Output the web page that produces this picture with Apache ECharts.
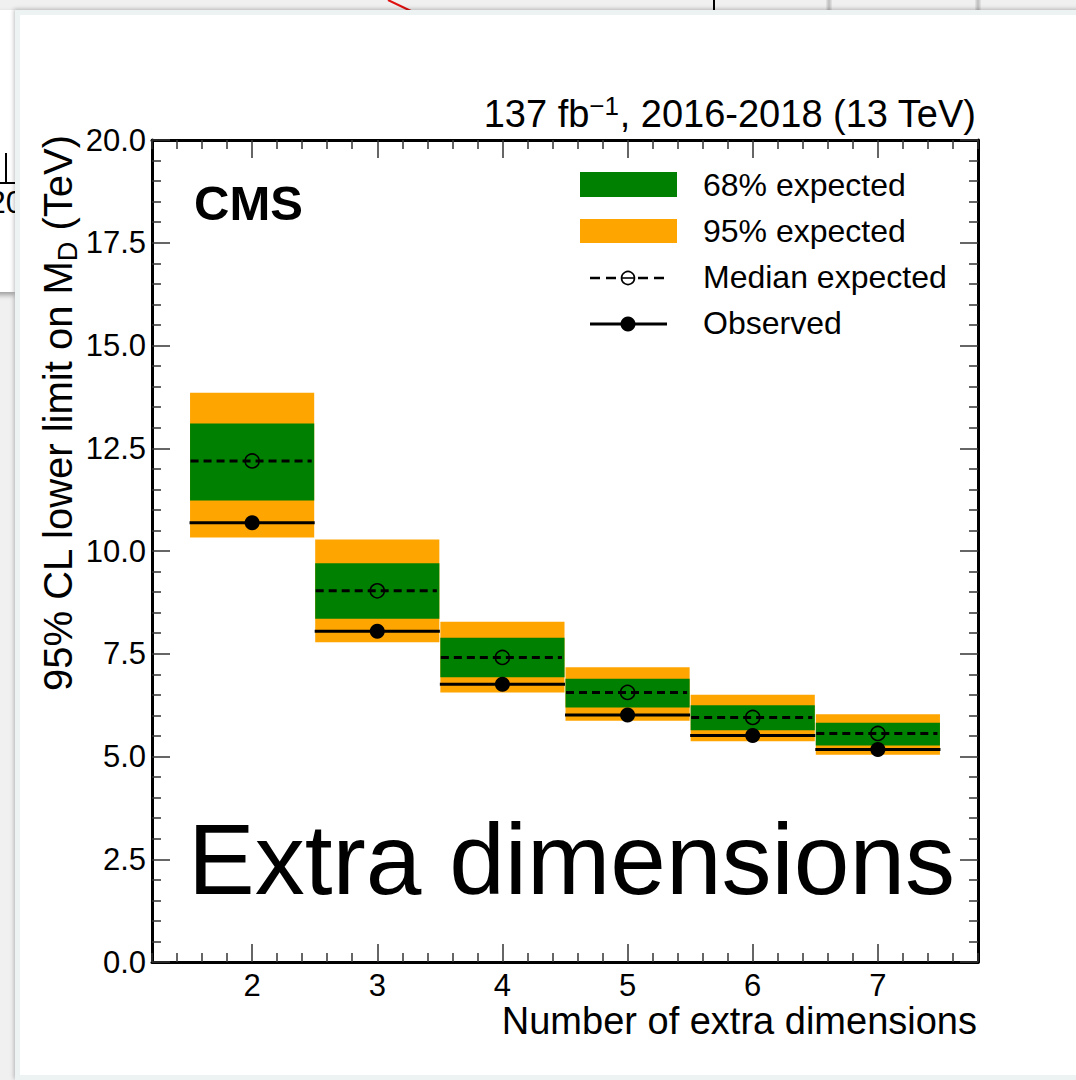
<!DOCTYPE html>
<html>
<head>
<meta charset="utf-8">
<title>Extra dimensions limits</title>
<script src="https://cdn.jsdelivr.net/npm/echarts@6/dist/echarts.min.js"></script>
<style>
  html, body { margin: 0; padding: 0; width: 1076px; height: 1080px; overflow: hidden; background: #f0f0f0; position: relative; }
  .back-panel-left { position: absolute; left: -20px; top: 10px; width: 35px; height: 282px; background: #fff; box-shadow: 0 3px 5px rgba(0,0,0,0.35); overflow: hidden; }
  .back-panel-left .tick-v { position: absolute; left: 25px; top: 143px; width: 2px; height: 30px; background: #000; }
  .back-panel-left .tick-h { position: absolute; left: 18px; top: 172px; width: 20px; height: 2px; background: #000; }
  .back-panel-left .num { position: absolute; left: 8px; top: 174px; font: 32px 'Liberation Sans', Arial, sans-serif; color: #000; }
  .back-bar { position: absolute; top: 0; height: 11px; width: 6px; background: linear-gradient(to right, #e6e6e6, #bdbdbd, #e6e6e6); }
  .back-line { position: absolute; left: 713px; top: 0; width: 2px; height: 11px; background: #000; }
  .back-svg { position: absolute; left: 0; top: 0; }
  .card { position: absolute; left: 15px; top: 10px; width: 1100px; height: 1060px; background: #fff; border: 5px solid #edf2f2; box-shadow: -1px -1px 4px rgba(0,0,0,0.25); }
  #chart { position: absolute; left: 0; top: 0; width: 1076px; height: 1080px; }
</style>
</head>
<body>
<svg class="back-svg" width="1076" height="20"><line x1="388" y1="0" x2="411" y2="11" stroke="#e01010" stroke-width="2"/></svg>
<div class="back-line"></div>
<div class="back-bar" style="left:826px"></div>
<div class="back-bar" style="left:975px"></div>
<div class="back-panel-left"><div class="tick-v"></div><div class="tick-h"></div><div class="num">20</div></div>
<div class="card"></div>
<div id="chart"></div>
<script>
// Number of extra dimensions (one box per value)
const dims = [2, 3, 4, 5, 6, 7];
// 95% CL lower limits on M_D in TeV
const observed = [10.69, 8.05, 6.76, 6.01, 5.51, 5.17];
const expected = [12.19, 9.03, 7.41, 6.56, 5.95, 5.56];
const exp68Lo  = [11.23, 8.35, 6.93, 6.19, 5.64, 5.27];
const exp68Hi  = [13.10, 9.70, 7.89, 6.89, 6.25, 5.82];
const exp95Lo  = [10.33, 7.78, 6.56, 5.87, 5.37, 5.04];
const exp95Hi  = [13.85, 10.28, 8.28, 7.17, 6.50, 6.03];
// Axis ranges and ticks
const xMin = 1.2, xMax = 7.8, xMinorStep = 0.2;
const yMin = 0, yMax = 20, yStep = 2.5;

const FONT = "'Liberation Sans', Arial, Helvetica, sans-serif";
const GREEN = '#008000';
const ORANGE = '#FFA500';

const xMinorTicks = [];
for (let i = 0; xMin + i * xMinorStep <= xMax + 1e-9; i++) {
  const v = Math.round((xMin + i * xMinorStep) * 10) / 10;
  if (!dims.includes(v)) xMinorTicks.push(v);
}

const boxData = dims.map((d, i) => [d, exp95Lo[i], exp95Hi[i], exp68Lo[i], exp68Hi[i], expected[i], observed[i]]);

function renderBox(params, api) {
  const d = api.value(0);
  const xl = api.coord([d - 0.5, 0])[0];
  const xr = api.coord([d + 0.5, 0])[0];
  const xc = api.coord([d, 0])[0];
  const py = v => api.coord([d, v])[1];
  const lo95 = py(api.value(1)), hi95 = py(api.value(2));
  const lo68 = py(api.value(3)), hi68 = py(api.value(4));
  const yExp = py(api.value(5)), yObs = py(api.value(6));
  return {
    type: 'group',
    children: [
      { type: 'rect', shape: { x: xl + 0.5, y: hi95, width: xr - xl - 1, height: lo95 - hi95 }, style: { fill: ORANGE } },
      { type: 'rect', shape: { x: xl + 0.5, y: hi68, width: xr - xl - 1, height: lo68 - hi68 }, style: { fill: GREEN } },
      { type: 'line', shape: { x1: xl + 1, y1: yExp, x2: xr - 3, y2: yExp }, style: { stroke: '#000', lineWidth: 3, lineDash: [8, 5] } },
      { type: 'line', shape: { x1: xl, y1: yObs, x2: xr, y2: yObs }, style: { stroke: '#000', lineWidth: 3 } },
      { type: 'circle', shape: { cx: xc, cy: yExp, r: 7 }, style: { fill: 'none', stroke: '#000', lineWidth: 1.6 } },
      { type: 'circle', shape: { cx: xc, cy: yObs, r: 7.5 }, style: { fill: '#000' } }
    ]
  };
}

const frameLine = { show: true, onZero: false, lineStyle: { color: '#000', width: 3 } };
const tickLine = { color: '#333', width: 1.5 };
const noSplit = { show: false };

function xAxisPair(position, withLabels) {
  return [
    {
      type: 'value', min: xMin, max: xMax, position,
      axisLine: frameLine,
      axisTick: { show: true, inside: true, length: 18, customValues: dims, lineStyle: tickLine },
      axisLabel: withLabels
        ? { show: true, customValues: dims, fontSize: 31, color: '#000', fontFamily: FONT, margin: 8 }
        : { show: false },
      splitLine: noSplit
    },
    {
      type: 'value', min: xMin, max: xMax, position,
      axisLine: { show: false, onZero: false },
      axisTick: { show: true, inside: true, length: 9, customValues: xMinorTicks, lineStyle: tickLine },
      axisLabel: { show: false },
      splitLine: noSplit
    }
  ];
}

function yAxisDef(position, withLabels) {
  return {
    type: 'value', min: yMin, max: yMax, interval: yStep, position,
    axisLine: frameLine,
    axisTick: { show: true, inside: true, length: 18, lineStyle: tickLine },
    minorTick: { show: true, splitNumber: 5, length: 9, lineStyle: tickLine },
    axisLabel: withLabels
      ? { show: true, fontSize: 31, color: '#000', fontFamily: FONT, margin: 6, formatter: v => v.toFixed(1) }
      : { show: false },
    splitLine: noSplit,
    minorSplitLine: noSplit
  };
}

const legendX = 580, legendTextX = 703;
const legendRows = [185, 231, 277, 323];

const chart = echarts.init(document.getElementById('chart'), null, { renderer: 'svg', width: 1076, height: 1080 });
chart.setOption({
  backgroundColor: 'transparent',
  animation: false,
  grid: { left: 152, top: 140, right: 98, bottom: 118 },
  xAxis: [...xAxisPair('bottom', true), ...xAxisPair('top', false)],
  yAxis: [yAxisDef('left', true), yAxisDef('right', false)],
  series: [{
    type: 'custom',
    xAxisIndex: 0,
    yAxisIndex: 0,
    renderItem: renderBox,
    encode: { x: 0, y: [1, 2, 3, 4, 5, 6] },
    data: boxData,
    z: 1
  }],
  graphic: [
    // Luminosity / energy label
    {
      type: 'text', x: 976, y: 114,
      style: {
        text: '137 fb{sup|−1}, 2016-2018 (13 TeV)',
        align: 'right', verticalAlign: 'middle',
        font: '38px ' + FONT, fill: '#000', lineHeight: 42,
        rich: { sup: { fontSize: 26, fontFamily: FONT, lineHeight: 26, verticalAlign: 'top', fill: '#000' } }
      }
    },
    // Y axis title
    {
      type: 'text', x: 58, y: 135, rotation: Math.PI / 2,
      style: {
        text: '95% CL lower limit on M{sub|D} (TeV)',
        align: 'right', verticalAlign: 'middle',
        font: '40px ' + FONT, fill: '#000', lineHeight: 46,
        rich: { sub: { fontSize: 27, fontFamily: FONT, lineHeight: 27, verticalAlign: 'bottom', fill: '#000' } }
      }
    },
    // X axis title
    {
      type: 'text', x: 977, y: 1021,
      style: { text: 'Number of extra dimensions', align: 'right', verticalAlign: 'middle', font: '38px ' + FONT, fill: '#000' }
    },
    // Experiment tag
    {
      type: 'text', x: 194, y: 203,
      style: { text: 'CMS', align: 'left', verticalAlign: 'middle', font: 'bold 49px ' + FONT, fill: '#000' }
    },
    // Large in-frame caption
    {
      type: 'text', x: 188, y: 859,
      style: { text: 'Extra dimensions', align: 'left', verticalAlign: 'middle', font: '100px ' + FONT, fill: '#000' }
    },
    // Legend
    { type: 'rect', shape: { x: legendX, y: 172, width: 97, height: 25 }, style: { fill: GREEN } },
    { type: 'rect', shape: { x: legendX, y: 219, width: 97, height: 24 }, style: { fill: ORANGE } },
    { type: 'line', shape: { x1: 590, y1: 278, x2: 666, y2: 278 }, style: { stroke: '#000', lineWidth: 2.5, lineDash: [10, 6] } },
    { type: 'circle', shape: { cx: 628, cy: 278, r: 6.5 }, style: { fill: '#fff', stroke: '#000', lineWidth: 1.6 } },
    { type: 'line', shape: { x1: 622, y1: 278, x2: 634, y2: 278 }, style: { stroke: '#000', lineWidth: 1.6 } },
    { type: 'line', shape: { x1: 590, y1: 324, x2: 667, y2: 324 }, style: { stroke: '#000', lineWidth: 3 } },
    { type: 'circle', shape: { cx: 628, cy: 324, r: 7.5 }, style: { fill: '#000' } },
    { type: 'text', x: legendTextX, y: legendRows[0], style: { text: '68% expected', verticalAlign: 'middle', font: '32px ' + FONT, fill: '#000' } },
    { type: 'text', x: legendTextX, y: legendRows[1], style: { text: '95% expected', verticalAlign: 'middle', font: '32px ' + FONT, fill: '#000' } },
    { type: 'text', x: legendTextX, y: legendRows[2], style: { text: 'Median expected', verticalAlign: 'middle', font: '32px ' + FONT, fill: '#000' } },
    { type: 'text', x: legendTextX, y: legendRows[3], style: { text: 'Observed', verticalAlign: 'middle', font: '32px ' + FONT, fill: '#000' } }
  ]
});
</script>
</body>
</html>
